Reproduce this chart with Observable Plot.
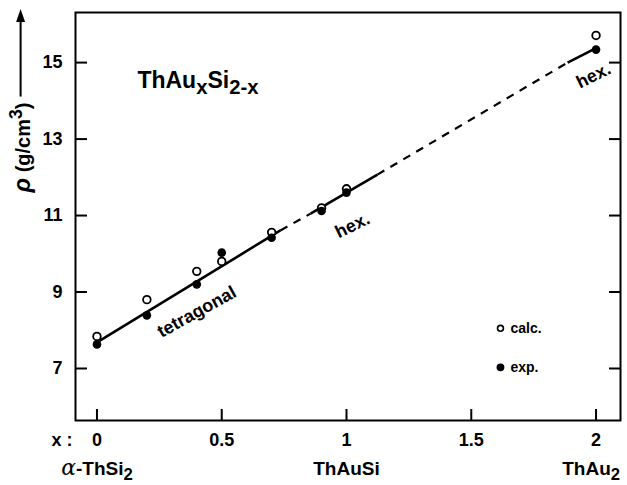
<!DOCTYPE html>
<html><head><meta charset="utf-8">
<script src="https://cdn.jsdelivr.net/npm/d3@7"></script>
<script src="https://cdn.jsdelivr.net/npm/@observablehq/plot@0.6"></script>
<style>
  html,body{margin:0;padding:0;background:#fff}
</style>
</head><body><div id="chart"></div>
<script>
// ---- data ----
const xValues     = [0, 0.2, 0.4, 0.5, 0.7, 0.9, 1.0, 2.0];
const calcDensity = [7.84, 8.80, 9.54, 9.80, 10.56, 11.20, 11.70, 15.71];
const expDensity  = [7.63, 8.39, 9.20, 10.03, 10.42, 11.12, 11.60, 15.34];

// guide line through the points (break points)
const lineX     = [0.01, 0.735, 0.856, 1.124, 1.886, 1.998];
const lineY     = [7.72, 10.61, 11.05, 12.07, 15.00, 15.37];
const lineStyle = ["solid", "dashed", "solid", "dashed", "solid"];

const xTicks      = [0, 0.5, 1, 1.5, 2];
const xTickLabels = ["0", "0.5", "1", "1.5", "2"];
const yTicks      = [7, 9, 11, 13, 15];

const compounds  = ["α-ThSi2", "ThAuSi", "ThAu2"];
const compoundX  = [0, 1, 2];
const phaseNames = ["tetragonal", "hex.", "hex."];
const legendLabels = ["calc.", "exp."];

const titleText  = "ThAuxSi2-x";
const yLabelText = "ρ (g/cm3)";
const xPrefix    = "x :";

// ---- tables built from the arrays ----
const rows = xValues.map((x, i) => ({x, calc: calcDensity[i], exp: expDensity[i]}));
const segs = lineStyle.map((s, i) => ({x1: lineX[i], y1: lineY[i], x2: lineX[i + 1], y2: lineY[i + 1], s}));
const phaseAnn = [
  {name: phaseNames[0], x: 0.40, y: 8.48, a: -29},
  {name: phaseNames[1], x: 1.024, y: 10.74, a: -26},
  {name: phaseNames[2], x: 1.99, y: 14.66, a: -26}
];
const legend = legendLabels.map((label, i) => ({label, open: i === 0}));
const compoundRows = compounds.map((name, i) => ({name, x: compoundX[i]}));

const font = "'Liberation Sans', Arial, Helvetica, sans-serif";

const plot = Plot.plot({
  width: 627,
  height: 485,
  marginLeft: 75,
  marginRight: 7,
  marginTop: 12,
  marginBottom: 65,
  x: {domain: [-0.086, 2.098]},
  y: {domain: [5.64, 16.31]},
  style: {fontFamily: font, fontSize: "18px", fontWeight: "bold", color: "black", background: "white", overflow: "visible"},
  marks: [
    Plot.frame({stroke: "black", strokeWidth: 2}),
    Plot.axisY(yTicks, {anchor: "left", tickSize: -12, tickPadding: 25, strokeWidth: 2, label: null, fontSize: 18}),
    Plot.axisY(yTicks, {anchor: "right", tickSize: -12, strokeWidth: 2, label: null, tickFormat: () => ""}),
    Plot.axisX(xTicks, {anchor: "bottom", tickSize: -11, tickPadding: 24, strokeWidth: 2, label: null, fontSize: 18,
      tickFormat: d => xTickLabels[xTicks.indexOf(d)]}),
    // guide line
    Plot.link(segs.filter(d => d.s === "solid"), {x1: "x1", y1: "y1", x2: "x2", y2: "y2", stroke: "black", strokeWidth: 2.6}),
    Plot.link(segs.filter(d => d.s === "dashed"), {x1: "x1", y1: "y1", x2: "x2", y2: "y2", stroke: "black", strokeWidth: 2.2, strokeDasharray: "8,7"}),
    // points
    Plot.dot(rows, {x: "x", y: "calc", r: 3.8, stroke: "black", strokeWidth: 1.8, fill: "white"}),
    Plot.dot(rows, {x: "x", y: "exp", r: 4.3, fill: "black", stroke: "none"}),
    // phase labels
    Plot.text(phaseAnn, {x: "x", y: "y", text: "name", rotate: "a", fontSize: 18, fontWeight: "bold", textAnchor: "middle", lineAnchor: "middle"}),
    // title
    Plot.text([titleText], {x: () => 0.162, y: () => 14.53, text: d => d, fontSize: 23, fontWeight: "bold", textAnchor: "start", lineAnchor: "middle"}),
    // legend
    Plot.dot(legend, {x: () => 1.617, y: (d, i) => 8.05 - 1.02 * i, r: (d) => d.open ? 3.4 : 3.8,
      fill: d => d.open ? "white" : "black", stroke: "black", strokeWidth: 1.6}),
    Plot.text(legend, {x: () => 1.617, y: (d, i) => 8.05 - 1.02 * i, text: "label", dx: 10, fontSize: 14, fontWeight: "bold", textAnchor: "start", lineAnchor: "middle"}),
    // y label
    Plot.text([yLabelText], {frameAnchor: "top-left", dx: -52, dy: 135, rotate: -90, text: d => d, fontSize: 20, fontWeight: "bold", textAnchor: "middle", lineAnchor: "middle"}),
    // x prefix and compounds below the axis
    Plot.text([xPrefix], {frameAnchor: "bottom-left", dx: -3, dy: 13, text: d => d, fontSize: 18, fontWeight: "bold", textAnchor: "end", lineAnchor: "top"}),
    Plot.text(compoundRows.slice(0, 2), {x: "x", frameAnchor: "bottom", dy: 41, text: "name", fontSize: 19, fontWeight: "bold", textAnchor: "middle", lineAnchor: "top"}),
    Plot.text(compoundRows.slice(2), {x: "x", frameAnchor: "bottom", dy: 41, dx: 24, text: "name", fontSize: 19, fontWeight: "bold", textAnchor: "end", lineAnchor: "top"})
  ]
});

document.getElementById("chart").appendChild(plot);

// ---- sub/superscripts as tspans ----
const rich = {
  [titleText]: [["ThAu"], ["x", "sub"], ["Si"], ["2-x", "sub"]],
  [yLabelText]: [["ρ", "ital"], [" (g/cm"], ["3", "sup"], [")"]],
  "α-ThSi2": [["α", "alpha"], ["-ThSi"], ["2", "sub"]],
  "ThAu2": [["ThAu"], ["2", "sub"]]
};
const NS = "http://www.w3.org/2000/svg";
let yLabelNode = null;
plot.querySelectorAll("text").forEach(t => {
  const key = t.textContent;
  if (!rich[key]) return;
  if (key === yLabelText) yLabelNode = t;
  const fs = parseFloat(getComputedStyle(t).fontSize) || 18;
  t.textContent = "";
  let shift = 0;
  for (const [s, kind] of rich[key]) {
    const ts = document.createElementNS(NS, "tspan");
    const target = kind === "sub" ? fs * 0.26 : kind === "sup" ? -fs * 0.38 : 0;
    if (target - shift !== 0) ts.setAttribute("dy", target - shift);
    shift = target;
    if (kind === "sub" || kind === "sup") ts.setAttribute("font-size", fs * 0.88);
    if (kind === "ital") { ts.setAttribute("font-style", "italic"); ts.setAttribute("font-size", fs * 1.2); }
    if (kind === "alpha") { ts.setAttribute("font-style", "italic"); ts.setAttribute("font-weight", "normal"); ts.setAttribute("font-family", "'DejaVu Serif', 'Liberation Serif', serif"); ts.setAttribute("font-size", fs * 1.15); }
    ts.textContent = s;
    t.appendChild(ts);
  }
});

// ---- arrow above the y label ----
if (yLabelNode) {
  const r = yLabelNode.getBoundingClientRect();
  const s = plot.getBoundingClientRect();
  const x = r.left - s.left + r.width * 0.5;
  const yBottom = r.top - s.top - 6;
  const g = document.createElementNS(NS, "g");
  const line = document.createElementNS(NS, "line");
  line.setAttribute("x1", x); line.setAttribute("x2", x);
  line.setAttribute("y1", yBottom); line.setAttribute("y2", 18);
  line.setAttribute("stroke", "black"); line.setAttribute("stroke-width", 2);
  const head = document.createElementNS(NS, "path");
  head.setAttribute("d", `M${x},9 L${x - 4.5},22 L${x + 4.5},22 Z`);
  head.setAttribute("fill", "black");
  g.appendChild(line); g.appendChild(head);
  plot.appendChild(g);
}
</script>
</body></html>
